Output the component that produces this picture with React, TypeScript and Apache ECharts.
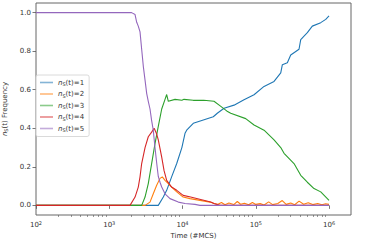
import React, { useEffect, useRef } from 'react';
import * as echarts from 'echarts';

const xMin = 100;
const xMax = 1995262;
const majorTicks = [1e2, 1e3, 1e4, 1e5, 1e6];
const minorTicks = [
  200, 300, 400, 500, 600, 700, 800, 900,
  2000, 3000, 4000, 5000, 6000, 7000, 8000, 9000,
  20000, 30000, 40000, 50000, 60000, 70000, 80000, 90000,
  200000, 300000, 400000, 500000, 600000, 700000, 800000, 900000,
];
const yTicks = [0, 0.2, 0.4, 0.6, 0.8, 1.0];

const seriesNames = ['1', '2', '3', '4', '5'];
const colors = ['#1f77b4', '#ff7f0e', '#2ca02c', '#d62728', '#9467bd'];

// n_S(t)=1
const t1 = [100, 4670, 5470, 6080, 7100, 8340, 9800, 10820, 11400, 14030, 19230, 26300, 29850, 36900, 50500, 69100, 94700, 129700, 177600, 219300, 230700, 269900, 300000, 389300, 410900, 505800, 591600, 770500, 901500, 1000000];
const v1 = [0, 0, 0.043, 0.078, 0.148, 0.217, 0.3, 0.374, 0.39, 0.426, 0.443, 0.46, 0.478, 0.504, 0.52, 0.548, 0.574, 0.617, 0.643, 0.687, 0.73, 0.74, 0.78, 0.81, 0.86, 0.896, 0.93, 0.948, 0.965, 0.983];

// n_S(t)=2
const t2 = [100, 3080, 3600, 3990, 4440, 4930, 5300, 5770, 6400, 7100, 8340, 10200, 12650, 17330, 23700, 26900, 30000, 34000, 38000, 43000, 50000, 56000, 62000, 70000, 80000, 90000, 100000, 115000, 130000, 150000, 170000, 200000, 230000, 260000, 300000, 340000, 390000, 450000, 520000, 600000, 700000, 800000, 900000, 1000000];
const v2 = [0, 0, 0.017, 0.06, 0.104, 0.14, 0.148, 0.13, 0.113, 0.095, 0.07, 0.043, 0.035, 0.026, 0.017, 0.01, 0.005, 0.015, 0.003, 0.012, 0.004, 0.02, 0.006, 0.011, 0.003, 0.015, 0.005, 0.009, 0.002, 0.018, 0.004, 0.01, 0.025, 0.005, 0.012, 0.003, 0.022, 0.006, 0.014, 0.004, 0.01, 0.003, 0.008, 0.005];

// n_S(t)=3
const t3 = [100, 2770, 3080, 3410, 3790, 4210, 4670, 5200, 5770, 6080, 6400, 7900, 9800, 10480, 14000, 19500, 26900, 33000, 40100, 45500, 72900, 94700, 129700, 177600, 219300, 243300, 332600, 410900, 505800, 624000, 770500, 948600, 1000000];
const v3 = [0, 0, 0.043, 0.113, 0.217, 0.32, 0.41, 0.5, 0.55, 0.575, 0.54, 0.55, 0.545, 0.55, 0.545, 0.545, 0.54, 0.515, 0.49, 0.478, 0.45, 0.417, 0.39, 0.34, 0.3, 0.27, 0.217, 0.156, 0.12, 0.087, 0.07, 0.035, 0.026];

// n_S(t)=4
const t4 = [100, 1920, 2250, 2490, 2630, 2770, 3080, 3410, 3790, 4100, 4440, 4670, 5200, 5600, 6080, 7100, 8340, 10200, 12900, 17700, 24300, 26900, 32500, 1000000];
const v4 = [0, 0, 0.043, 0.095, 0.148, 0.217, 0.3, 0.356, 0.38, 0.4, 0.37, 0.34, 0.25, 0.18, 0.13, 0.095, 0.078, 0.052, 0.043, 0.03, 0.017, 0.01, 0, 0];

// n_S(t)=5
const t5 = [100, 2020, 2250, 2370, 2490, 2630, 2770, 2920, 3080, 3245, 3410, 3600, 3790, 3990, 4210, 4440, 4670, 4930, 5200, 5770, 6750, 8770, 10820, 14800, 17330, 1000000];
const v5 = [1, 1, 0.99, 0.95, 0.93, 0.9, 0.81, 0.72, 0.65, 0.58, 0.54, 0.5, 0.44, 0.39, 0.3, 0.22, 0.15, 0.12, 0.095, 0.06, 0.035, 0.017, 0.01, 0.005, 0, 0];

const times = [t1, t2, t3, t4, t5];
const values = [v1, v2, v3, v4, v5];

const FONT = 'DejaVu Sans';

export default function App() {
  const ref = useRef<HTMLDivElement>(null);
  useEffect(() => {
    if (!ref.current) return;
    const chart = echarts.init(ref.current, undefined, { renderer: 'svg' });
    const series: any[] = seriesNames.map((n, i) => ({
      name: 'n_S(t)=' + n,
      type: 'line',
      xAxisIndex: 0,
      showSymbol: false,
      symbol: 'none',
      color: colors[i],
      lineStyle: { width: 1.1, color: colors[i] },
      data: times[i].map((t, j) => [t, values[i][j]]),
      z: 2 + i,
    }));
    chart.setOption({
      animation: false,
      textStyle: { fontFamily: FONT },
      grid: {
        left: 36, right: 17, top: 3, bottom: 26,
        outerBoundsMode: 'none',
        containLabel: false,
        show: true, borderColor: '#666', borderWidth: 1, backgroundColor: 'transparent',
      },
      legend: {
        orient: 'vertical',
        left: 36, top: 75,
        padding: [4, 5, 4, 4],
        itemGap: 4,
        itemWidth: 13,
        itemHeight: 1.6,
        icon: 'rect',
        backgroundColor: 'rgba(255,255,255,0.8)',
        borderColor: '#d0d0d0',
        borderWidth: 0.8,
        borderRadius: 2,
        data: series.map((s, i) => ({ name: s.name, itemStyle: { color: colors[i], opacity: 0.55 } })),
        formatter: (name: string) => `{i|n}{s|S}{r|(t)=${name.slice(-1)}}`,
        textStyle: {
          color: '#333', fontSize: 7, fontFamily: FONT,
          rich: {
            i: { fontSize: 7, fontStyle: 'italic', fontFamily: FONT, color: '#333' },
            s: { fontSize: 5, fontFamily: FONT, color: '#333', verticalAlign: 'bottom', padding: [3, 0, 0, 0] },
            r: { fontSize: 7, fontFamily: FONT, color: '#333' },
          },
        },
      },
      xAxis: [
        {
          type: 'log',
          min: xMin,
          max: xMax,
          name: 'Time (#MCS)',
          nameLocation: 'middle',
          nameGap: 15,
          nameTextStyle: { fontSize: 7, color: '#333', fontFamily: FONT },
          axisLine: { show: false },
          splitLine: { show: false },
          axisTick: { show: true, length: 3.5, lineStyle: { color: '#555', width: 0.8 }, customValues: majorTicks },
          axisLabel: {
            customValues: majorTicks,
            margin: 5,
            formatter: (v: number) => `{b|10}{p|${Math.round(Math.log10(v))}}`,
            rich: {
              b: { fontSize: 7, color: '#333', fontFamily: FONT },
              p: { fontSize: 5, color: '#333', fontFamily: FONT, padding: [0, 0, 4, 0] },
            },
          },
        },
        {
          type: 'log',
          min: xMin,
          max: xMax,
          position: 'bottom',
          axisLine: { show: false },
          splitLine: { show: false },
          axisTick: { show: true, length: 2, lineStyle: { color: '#555', width: 0.6 }, customValues: minorTicks },
          axisLabel: { show: false, customValues: minorTicks },
        },
      ],
      yAxis: {
        type: 'value',
        min: -0.05,
        max: 1.05,
        name: '{i|n}{s|S}{r|(t) Frequency}',
        nameLocation: 'middle',
        nameRotate: 90,
        nameGap: 19,
        nameTextStyle: {
          fontSize: 7, color: '#333', fontFamily: FONT,
          rich: {
            i: { fontSize: 7, fontStyle: 'italic', fontFamily: FONT, color: '#333' },
            s: { fontSize: 5, fontFamily: FONT, color: '#333', padding: [3, 0, 0, 0] },
            r: { fontSize: 7, fontFamily: FONT, color: '#333' },
          },
        },
        axisLine: { show: false },
        splitLine: { show: false },
        axisTick: { show: true, length: 3.5, lineStyle: { color: '#555', width: 0.8 }, customValues: yTicks },
        axisLabel: {
          customValues: yTicks,
          margin: 5,
          fontSize: 7,
          color: '#333',
          fontFamily: FONT,
          formatter: (v: number) => v.toFixed(1),
        },
      },
      series,
    });
    return () => chart.dispose();
  }, []);
  return <div ref={ref} style={{ width: 368, height: 241, position: 'absolute', left: 0, top: 0 }} />;
}
